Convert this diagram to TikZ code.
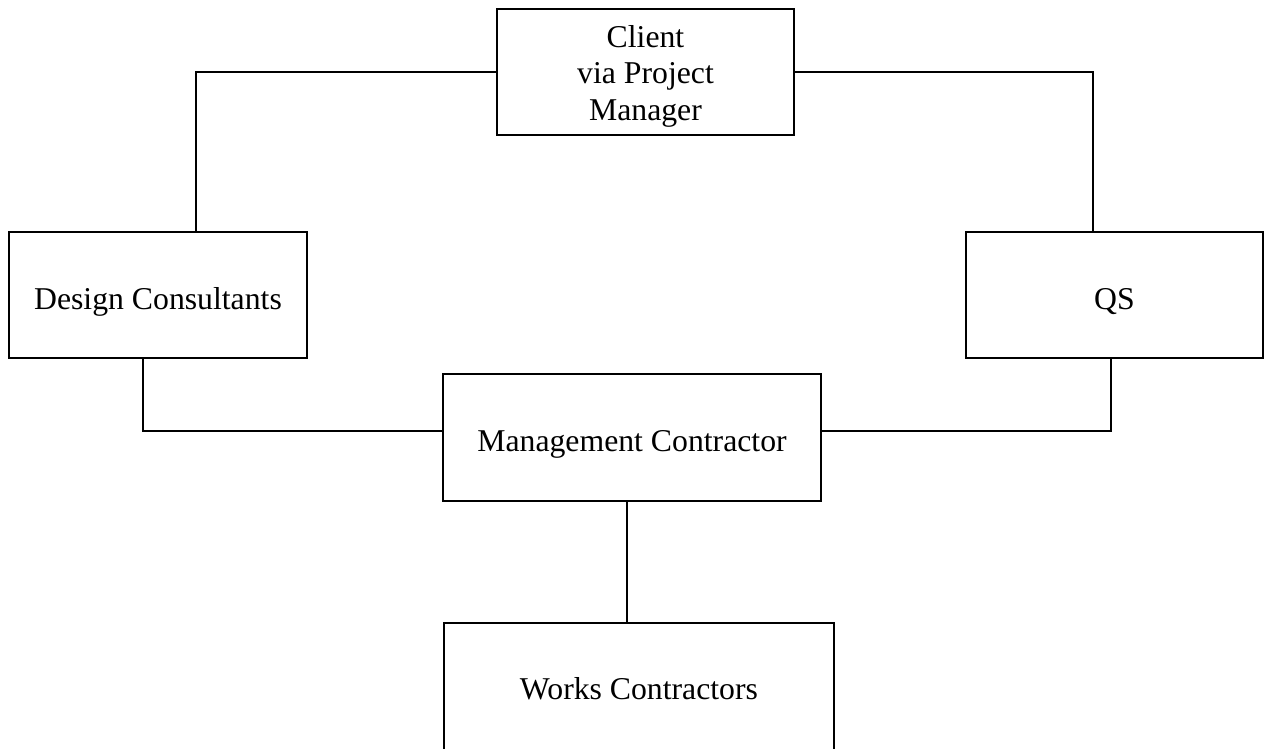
\documentclass[tikz,border=0pt]{standalone}
\usepackage{fontspec}
\setmainfont{Liberation Serif}
\begin{document}
\begin{tikzpicture}[x=0.75pt,y=-0.75pt,
  box/.style={draw=black, line width=1.5pt, rectangle, inner sep=0pt},
  txt/.style={anchor=base, inner sep=0pt, font=\fontsize{23.8}{27}\selectfont},
  link/.style={draw=black, line width=1.5pt}]
\useasboundingbox (0,0) rectangle (1267,749);
% boxes
\node[box, minimum width=222.75pt, minimum height=94.5pt] (cl) at (645.5,72) {};
\node[box, minimum width=223.5pt, minimum height=94.5pt] (dc) at (158,295) {};
\node[box, minimum width=222.75pt, minimum height=94.5pt] (qs) at (1114.5,295) {};
\node[box, minimum width=283.5pt, minimum height=95.25pt] (mc) at (632,437.5) {};
\node[box, minimum width=292.5pt, minimum height=110.25pt] (wc) at (639,696.5) {};
% texts
\node[txt] (cl1) at (645.5,48) {Client};
\node[txt] (cl2) at (645.5,84) {via Project};
\node[txt] (cl3) at (645.5,120) {Manager};
\node[txt] (dct) at (158,309) {Design Consultants};
\node[txt] (qst) at (1114.5,309) {QS};
\node[txt] (mct) at (632,451) {Management Contractor};
\node[txt] (wct) at (639,699) {Works Contractors};
% connectors
\draw[link] (cl.west) -| ([xshift=28.5pt]dc.north);
\draw[link] (cl.east) -| ([xshift=-16.1pt]qs.north);
\draw[link] ([xshift=-11.25pt]dc.south) |- ([yshift=4.9pt]mc.west);
\draw[link] ([xshift=-2.6pt]qs.south) |- ([yshift=4.9pt]mc.east);
\draw[link] ([xshift=-3.75pt]mc.south) -- ([xshift=-3.75pt]mc.south |- wc.north);
\end{tikzpicture}
\end{document}
